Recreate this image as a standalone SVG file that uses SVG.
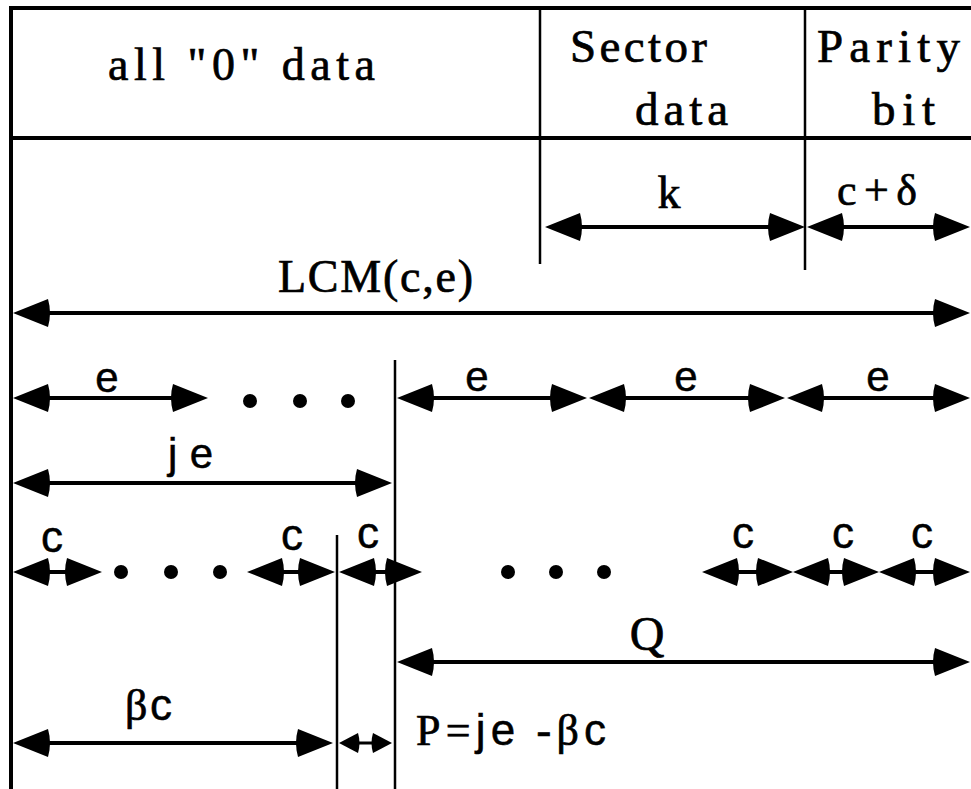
<svg xmlns="http://www.w3.org/2000/svg" width="971" height="789" viewBox="0 0 971 789">
<style>
.frame{stroke:#000;stroke-width:4;fill:none}
.div{stroke:#000;stroke-width:2.5;fill:none}
.dim{stroke:#000;stroke-width:4;fill:none;marker-start:url(#ah);marker-end:url(#ah)}
.dims{stroke:#000;stroke-width:3;fill:none;marker-start:url(#ahs);marker-end:url(#ahs)}
.serif{font-family:"Liberation Serif","Times New Roman",serif;fill:#000;stroke:#000;stroke-width:0.7}
.sans{font-family:"Liberation Sans",Arial,sans-serif;fill:#000;stroke:#000;stroke-width:0.5}
.dot{fill:#000}
</style>
<defs>
<marker id="ah" markerUnits="userSpaceOnUse" markerWidth="44" markerHeight="36" viewBox="-4 -18 44 36" refX="30" refY="0" orient="auto-start-reverse" overflow="visible">
<path d="M36,0 L1,-14 Q-3,0 1,14 Z" fill="#000"/>
</marker>
<marker id="ahs" markerUnits="userSpaceOnUse" markerWidth="26" markerHeight="24" viewBox="-3 -12 26 24" refX="16" refY="0" orient="auto-start-reverse" overflow="visible">
<path d="M20,0 L1,-10 Q-2,0 1,10 Z" fill="#000"/>
</marker>
</defs>

<g id="frame">
<line class="frame" x1="9" y1="8" x2="971" y2="8"/>
<line class="frame" x1="11" y1="6" x2="11" y2="789"/>
<line class="frame" x1="11" y1="138" x2="971" y2="138"/>
</g>

<g id="cell-zero">
<text class="serif" x="108" y="80" font-size="46" textLength="267" lengthAdjust="spacing">all "0" data</text>
</g>
<g id="cell-sector">
<line class="div" x1="540" y1="8" x2="540" y2="264"/>
<text class="serif" x="570" y="62" font-size="47" textLength="137" lengthAdjust="spacing">Sector</text>
<text class="serif" x="635" y="125" font-size="47" textLength="93" lengthAdjust="spacing">data</text>
</g>
<g id="cell-parity">
<line class="div" x1="805" y1="8" x2="805" y2="270"/>
<text class="serif" x="817" y="62" font-size="47" textLength="143" lengthAdjust="spacing">Parity</text>
<text class="serif" x="872" y="125" font-size="47" textLength="63" lengthAdjust="spacing">bit</text>
</g>

<g id="markers-vertical">
<line class="div" x1="395" y1="360" x2="395" y2="789"/>
<line class="div" x1="337" y1="535" x2="337" y2="789"/>
</g>

<g id="connectors">
<line class="dim" x1="551" y1="227" x2="799" y2="227"/>
<line class="dim" x1="813" y1="227" x2="964" y2="227"/>
<line class="dim" x1="19" y1="313" x2="964" y2="313"/>
<line class="dim" x1="19" y1="398" x2="202" y2="398"/>
<line class="dim" x1="403" y1="398" x2="581" y2="398"/>
<line class="dim" x1="595" y1="398" x2="779" y2="398"/>
<line class="dim" x1="793" y1="398" x2="964" y2="398"/>
<line class="dim" x1="19" y1="483" x2="386" y2="483"/>
<line class="dim" x1="19" y1="572" x2="96" y2="572"/>
<line class="dim" x1="253" y1="572" x2="329" y2="572"/>
<line class="dim" x1="345" y1="572" x2="416" y2="572"/>
<line class="dim" x1="708" y1="572" x2="787" y2="572"/>
<line class="dim" x1="799" y1="572" x2="873" y2="572"/>
<line class="dim" x1="885" y1="572" x2="964" y2="572"/>
<line class="dim" x1="403" y1="662" x2="964" y2="662"/>
<line class="dim" x1="19" y1="743" x2="327" y2="743"/>
<line class="dims" x1="343" y1="743" x2="388" y2="743"/>
</g>

<g id="dots">
<circle class="dot" cx="250" cy="401" r="7"/>
<circle class="dot" cx="300" cy="401" r="7"/>
<circle class="dot" cx="348" cy="401" r="7"/>
<circle class="dot" cx="121" cy="572" r="7"/>
<circle class="dot" cx="171" cy="572" r="7"/>
<circle class="dot" cx="220" cy="572" r="7"/>
<circle class="dot" cx="508" cy="572" r="7"/>
<circle class="dot" cx="556" cy="572" r="7"/>
<circle class="dot" cx="604" cy="572" r="7"/>
</g>

<g id="labels">
<text class="serif" x="669" y="208" font-size="46" text-anchor="middle">k</text>
<text class="serif" x="837" y="205" font-size="44" textLength="80" lengthAdjust="spacing">c+δ</text>
<text class="serif" x="278" y="292" font-size="46" textLength="195" lengthAdjust="spacing">LCM(c,e)</text>
<text class="sans" x="107" y="392" font-size="42" text-anchor="middle">e</text>
<text class="sans" x="477" y="391" font-size="42" text-anchor="middle">e</text>
<text class="sans" x="686" y="391" font-size="42" text-anchor="middle">e</text>
<text class="sans" x="878" y="391" font-size="42" text-anchor="middle">e</text>
<text class="sans" x="168" y="468" font-size="42" textLength="45" lengthAdjust="spacing">je</text>
<text class="sans" x="52" y="552" font-size="44" text-anchor="middle">c</text>
<text class="sans" x="292" y="550" font-size="44" text-anchor="middle">c</text>
<text class="sans" x="368" y="548" font-size="44" text-anchor="middle">c</text>
<text class="sans" x="743" y="548" font-size="44" text-anchor="middle">c</text>
<text class="sans" x="843" y="548" font-size="44" text-anchor="middle">c</text>
<text class="sans" x="922" y="548" font-size="44" text-anchor="middle">c</text>
<text class="serif" x="647" y="650" font-size="48" text-anchor="middle">Q</text>
<text class="serif" x="125" y="720" font-size="44" textLength="47" lengthAdjust="spacing">β<tspan class="sans">c</tspan></text>
<text class="serif" x="416" y="745" font-size="44" textLength="190" lengthAdjust="spacing">P=<tspan class="sans">je</tspan> -β<tspan class="sans">c</tspan></text>
</g>
</svg>
